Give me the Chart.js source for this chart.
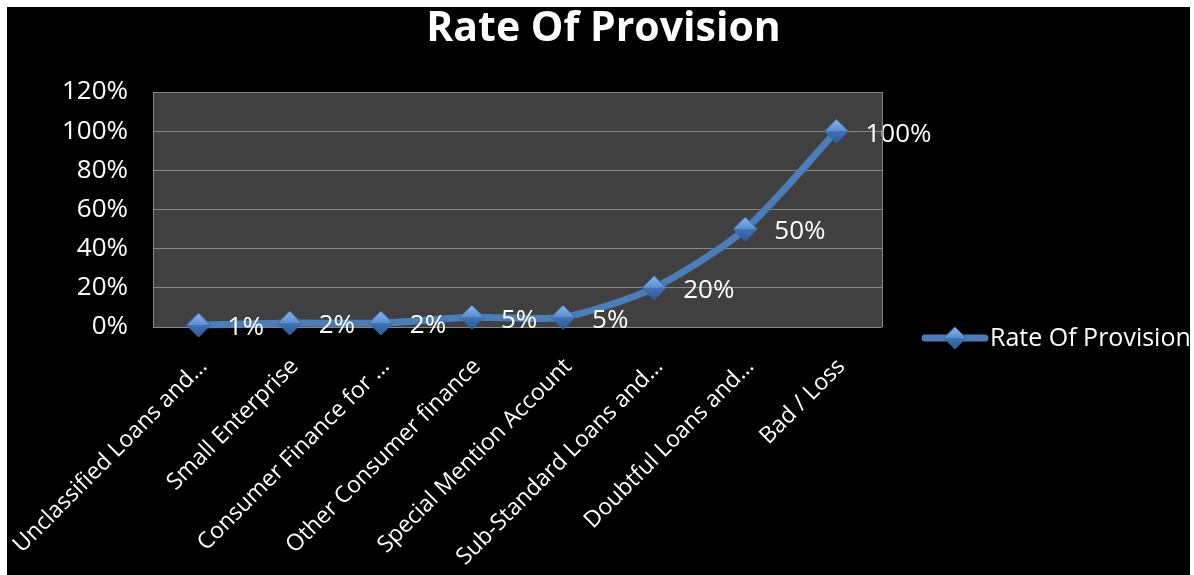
<!DOCTYPE html>
<html>
<head>
<meta charset="utf-8">
<script src="https://cdn.jsdelivr.net/npm/chart.js@4.4.0/dist/chart.umd.min.js"></script>
<style>
  html, body { margin: 0; padding: 0; background: #fff; }
  #wrap { position: absolute; left: 7px; top: 7px; width: 1183px; height: 568px; background: #000; }
</style>
</head>
<body>
<div id="wrap"><canvas id="chart"></canvas></div>
<script>
const categories = [
  'Unclassified Loans and…',
  'Small Enterprise',
  'Consumer Finance for …',
  'Other Consumer finance',
  'Special Mention Account',
  'Sub-Standard Loans and…',
  'Doubtful Loans and…',
  'Bad / Loss'
];
const rates = [1, 2, 2, 5, 5, 20, 50, 100];
const yTicks = [0, 20, 40, 60, 80, 100, 120];

const seriesName = 'Rate Of Provision';
const chartTitle = 'Rate Of Provision';
const blue = '#4a7ebb';

// shaded diamond fill, lighter on top like the office marker
function diamondFill(ctx, x, y, r) {
  const g = ctx.createLinearGradient(x, y - r, x, y + r);
  g.addColorStop(0, '#8ab4ea');
  g.addColorStop(0.48, '#5b8fd3');
  g.addColorStop(0.52, '#3f72b5');
  g.addColorStop(1, '#2b5b98');
  return g;
}

// plot area fill + right edge
const plotBg = {
  id: 'plotBg',
  beforeDraw(chart) {
    const { ctx, chartArea: a } = chart;
    ctx.save();
    ctx.fillStyle = '#404040';
    ctx.fillRect(a.left, a.top, a.right - a.left, a.bottom - a.top);
    ctx.restore();
  },
  afterDraw(chart) {
    const { ctx, chartArea: a } = chart;
    ctx.save();
    ctx.strokeStyle = '#868686';
    ctx.lineWidth = 1;
    ctx.beginPath();
    ctx.moveTo(Math.round(a.right) + 0.5, a.top);
    ctx.lineTo(Math.round(a.right) + 0.5, a.bottom);
    ctx.stroke();
    ctx.restore();
  }
};

// value labels to the right of each marker
const valueLabels = {
  id: 'valueLabels',
  afterDatasetsDraw(chart) {
    const { ctx } = chart;
    const meta = chart.getDatasetMeta(0);
    ctx.save();
    ctx.font = '26px "Open Sans"';
    ctx.fillStyle = '#ffffff';
    ctx.textAlign = 'left';
    ctx.textBaseline = 'middle';
    meta.data.forEach((pt, i) => {
      ctx.fillText(rates[i] + '%', pt.x + 29, pt.y + 3);
    });
    ctx.restore();
  }
};

// title and side legend (line + diamond sample)
const titleLegend = {
  id: 'titleLegend',
  afterDraw(chart) {
    const { ctx, width } = chart;
    ctx.save();
    ctx.fillStyle = '#ffffff';
    ctx.font = 'bold 41px "Open Sans"';
    ctx.textAlign = 'center';
    ctx.textBaseline = 'middle';
    ctx.fillText(chartTitle, width / 2 + 5, 22);

    const ly = 331, lx = 918;
    ctx.strokeStyle = blue;
    ctx.lineWidth = 7;
    ctx.lineCap = 'round';
    ctx.beginPath();
    ctx.moveTo(lx, ly);
    ctx.lineTo(lx + 60, ly);
    ctx.stroke();
    ctx.fillStyle = diamondFill(ctx, lx + 30, ly, 11);
    ctx.strokeStyle = '#3a68a3';
    ctx.lineWidth = 1;
    ctx.beginPath();
    ctx.moveTo(lx + 30, ly - 11);
    ctx.lineTo(lx + 41, ly);
    ctx.lineTo(lx + 30, ly + 11);
    ctx.lineTo(lx + 19, ly);
    ctx.closePath();
    ctx.fill();
    ctx.stroke();

    ctx.fillStyle = '#ffffff';
    ctx.font = '25px "Open Sans"';
    ctx.textAlign = 'left';
    ctx.fillText(seriesName, lx + 65, ly + 1);
    ctx.restore();
  }
};

const data = {
  labels: categories,
  datasets: [{
    label: seriesName,
    data: rates,
    borderColor: blue,
    borderWidth: 7,
    tension: 0.25,
    pointStyle: 'rectRot',
    pointRadius: 12,
    pointHoverRadius: 12,
    pointBackgroundColor(c) {
      const chart = c.chart;
      if (c.dataIndex === undefined || !chart.chartArea) return blue;
      const x = chart.scales.x.getPixelForValue(c.dataIndex);
      const y = chart.scales.y.getPixelForValue(rates[c.dataIndex]);
      return diamondFill(chart.ctx, x, y, 12);
    },
    pointBorderColor: '#3a68a3',
    pointBorderWidth: 1,
    clip: false,
    fill: false
  }]
};

const config = {
  type: 'line',
  data,
  options: {
    responsive: true,
    maintainAspectRatio: false,
    animation: false,
    layout: { padding: { left: 0, right: 308, top: 85, bottom: 0 } },
    plugins: {
      legend: { display: false },
      title: { display: false },
      tooltip: { enabled: false }
    },
    scales: {
      y: {
        min: 0,
        max: 120,
        afterFit(scale) { scale.width = 146; },
        afterBuildTicks(scale) { scale.ticks = yTicks.map(v => ({ value: v })); },
        grid: { color: '#868686', lineWidth: 1, drawTicks: false },
        border: { display: true, color: '#868686' },
        ticks: {
          color: '#ffffff',
          padding: 25,
          font: { family: 'Open Sans', size: 26 },
          callback: (v) => v + '%'
        }
      },
      x: {
        offset: true,
        afterFit(scale) {
          scale.height = 248;
          scale.paddingLeft = 0;
          scale.paddingRight = 0;
        },
        grid: { display: false, drawTicks: false },
        border: { display: false },
        ticks: {
          color: '#ffffff',
          autoSkip: false,
          minRotation: 45,
          maxRotation: 45,
          padding: 26,
          labelOffset: 5,
          font: { family: 'Open Sans', size: 23 }
        }
      }
    }
  },
  plugins: [plotBg, valueLabels, titleLegend]
};

new Chart(document.getElementById('chart'), config);
</script>
</body>
</html>
